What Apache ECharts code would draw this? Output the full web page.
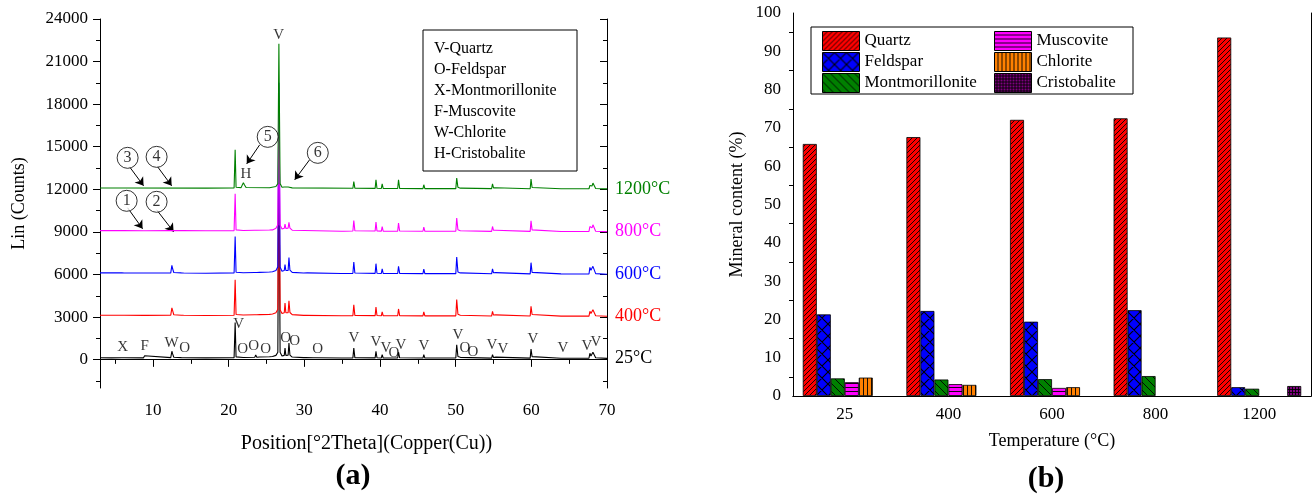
<!DOCTYPE html>
<html><head><meta charset="utf-8">
<script src="https://cdn.jsdelivr.net/npm/echarts@6/dist/echarts.min.js"></script>
<style>html,body{margin:0;padding:0;background:#fff}#c{width:1313px;height:500px}</style>
</head><body><div id="c"></div>
<script>
const FONT = "'Liberation Serif','Times New Roman',serif";

// ---------- Panel (a): XRD patterns ----------
const xrdNames = ['25°C', '400°C', '600°C', '800°C', '1200°C'];
const xrdColors = ['#000000', '#ff0000', '#0000ff', '#ff00ff', '#008000'];
const xrd25 = [[3,130],[4.5,125],[5.9,130],[6.05,175],[6.2,135],[8.75,125],[8.9,270],[9.05,130],[12.35,140],[12.5,590],[12.6,400],[12.75,170],[13.75,140],[13.9,250],[14.05,135],[17,120],[20.72,140],[20.86,2620],[20.98,190],[21.2,150],[21.92,150],[22.05,260],[22.18,150],[23.45,170],[23.58,320],[23.72,170],[24.1,180],[24.23,270],[24.36,180],[25.4,200],[25.6,320],[25.8,220],[26.25,300],[26.5,520],[26.64,15500],[26.8,520],[27.05,260],[27.35,300],[27.45,820],[27.56,300],[27.86,310],[27.97,1170],[28.1,320],[28.4,180],[29.9,140],[30.05,190],[30.2,140],[31.2,130],[31.35,200],[31.5,130],[34.9,110],[35.05,170],[35.2,110],[36.42,120],[36.54,820],[36.68,140],[39.36,120],[39.47,590],[39.6,130],[40.18,115],[40.29,350],[40.42,115],[41.7,115],[41.82,180],[41.94,115],[42.34,115],[42.45,520],[42.6,130],[45.68,110],[45.79,350],[45.93,110],[50.02,115],[50.14,1050],[50.3,220],[50.62,160],[50.8,110],[54.75,105],[54.87,350],[55.0,150],[55.3,175],[55.45,105],[59.85,105],[59.96,750],[60.1,210],[60.3,110],[63.92,100],[64.03,170],[64.15,100],[67.62,105],[67.74,450],[67.88,260],[68.02,300],[68.14,520],[68.22,420],[68.31,520],[68.5,130],[70,90]];
const xrd400 = [[3,3130],[5.9,3130],[6.05,3170],[6.2,3125],[8.75,3120],[8.9,3250],[9.05,3120],[12.35,3130],[12.5,3640],[12.6,3450],[12.75,3160],[13.75,3130],[13.9,3230],[14.05,3125],[17,3110],[20.72,3130],[20.86,5630],[20.98,3180],[21.2,3140],[21.92,3140],[22.05,3240],[22.18,3140],[23.45,3160],[23.58,3290],[23.72,3160],[24.1,3170],[24.23,3260],[24.36,3170],[25.4,3190],[25.6,3300],[25.8,3210],[26.25,3300],[26.5,3550],[26.64,17000],[26.8,3520],[27.05,3250],[27.35,3300],[27.45,3990],[27.56,3300],[27.86,3310],[27.97,4150],[28.1,3320],[28.4,3170],[29.9,3120],[30.05,3180],[30.2,3120],[34.9,3090],[35.05,3130],[35.2,3090],[36.42,3100],[36.54,3870],[36.68,3120],[39.36,3100],[39.47,3710],[39.6,3110],[40.18,3090],[40.29,3360],[40.42,3090],[42.34,3090],[42.45,3570],[42.6,3100],[45.68,3080],[45.79,3360],[45.93,3080],[50.02,3085],[50.14,4230],[50.3,3200],[50.62,3130],[50.8,3080],[54.75,3070],[54.87,3400],[55.0,3140],[55.3,3150],[55.45,3070],[59.85,3070],[59.96,3750],[60.1,3180],[60.3,3075],[63.92,3065],[64.03,3150],[64.15,3065],[67.62,3065],[67.74,3400],[67.88,3250],[68.02,3280],[68.14,3520],[68.22,3420],[68.31,3500],[68.5,3090],[70,3055]];
const xrd600 = [[3,6110],[5.9,6110],[6.05,6150],[6.2,6105],[8.75,6100],[8.9,6180],[9.05,6100],[12.35,6110],[12.5,6640],[12.6,6400],[12.75,6140],[13.75,6110],[13.9,6200],[14.05,6105],[17,6090],[20.72,6110],[20.86,8680],[20.98,6160],[21.2,6120],[21.92,6120],[22.05,6220],[22.18,6120],[23.45,6140],[23.58,6270],[23.72,6140],[24.1,6150],[24.23,6240],[24.36,6150],[25.4,6170],[25.6,6280],[25.8,6190],[26.25,6280],[26.5,6550],[26.64,19500],[26.8,6520],[27.05,6230],[27.35,6280],[27.45,6690],[27.56,6280],[27.86,6290],[27.97,7200],[28.1,6300],[28.4,6150],[29.9,6100],[30.05,6180],[30.4,6110],[34.9,6070],[35.05,6110],[35.2,6070],[36.42,6080],[36.54,6880],[36.68,6100],[39.36,6080],[39.47,6760],[39.6,6090],[40.18,6070],[40.29,6400],[40.42,6070],[41.7,6065],[41.82,6130],[41.94,6065],[42.34,6065],[42.45,6570],[42.6,6080],[45.68,6060],[45.79,6380],[45.93,6060],[50.02,6060],[50.14,7230],[50.3,6180],[50.62,6110],[50.8,6055],[54.75,6045],[54.87,6400],[55.0,6120],[55.3,6130],[55.45,6045],[59.85,6040],[59.96,6830],[60.1,6150],[60.3,6045],[63.92,6040],[64.03,6110],[64.15,6040],[67.62,6035],[67.74,6500],[67.88,6300],[68.02,6330],[68.14,6570],[68.22,6450],[68.31,6560],[68.5,6060],[70,6020]];
const xrd800 = [[3,9090],[5.75,9090],[5.9,9150],[6.05,9090],[8.75,9085],[8.9,9130],[9.05,9085],[12.35,9090],[12.5,9200],[12.65,9090],[13.6,9090],[13.75,9160],[13.9,9090],[17,9075],[20.72,9090],[20.86,11690],[20.98,9140],[21.2,9100],[21.92,9100],[22.05,9160],[22.18,9100],[23.45,9110],[23.58,9180],[23.72,9110],[25.4,9130],[25.6,9200],[25.8,9140],[26.25,9250],[26.5,9500],[26.64,18000],[26.8,9480],[27.05,9200],[27.35,9250],[27.45,9550],[27.56,9250],[27.86,9260],[27.97,9670],[28.1,9270],[28.4,9120],[34.9,9050],[35.05,9080],[35.2,9050],[36.42,9060],[36.54,9800],[36.68,9080],[39.36,9060],[39.47,9690],[39.6,9070],[40.18,9055],[40.29,9380],[40.42,9055],[42.34,9050],[42.45,9620],[42.6,9060],[45.68,9045],[45.79,9340],[45.93,9045],[50.02,9045],[50.14,9970],[50.3,9150],[50.62,9080],[50.8,9040],[54.75,9035],[54.87,9380],[55.0,9110],[55.3,9120],[55.45,9035],[59.85,9035],[59.96,9780],[60.1,9140],[60.3,9035],[63.92,9030],[64.03,9100],[64.15,9030],[67.62,9030],[67.74,9380],[67.88,9250],[68.02,9280],[68.14,9500],[68.22,9420],[68.31,9480],[68.5,9050],[70,9020]];
const xrd1200 = [[3,12090],[5.75,12090],[5.9,12130],[6.05,12090],[17,12080],[20.72,12090],[20.86,14780],[20.98,12140],[21.2,12110],[21.65,12120],[21.8,12300],[21.95,12460],[22.1,12300],[22.3,12130],[25.4,12110],[26.25,12200],[26.5,12400],[26.64,22250],[26.8,12400],[27.05,12150],[27.35,12160],[27.45,12260],[27.56,12160],[27.86,12160],[27.97,12220],[28.1,12150],[28.4,12100],[36.42,12070],[36.54,12550],[36.68,12080],[39.36,12065],[39.47,12670],[39.6,12070],[40.18,12060],[40.29,12390],[40.42,12060],[42.34,12055],[42.45,12670],[42.6,12065],[45.68,12050],[45.79,12320],[45.93,12050],[50.02,12050],[50.14,12790],[50.3,12140],[50.62,12080],[50.8,12045],[54.75,12045],[54.87,12390],[55.0,12100],[55.3,12110],[55.45,12045],[59.85,12040],[59.96,12720],[60.1,12130],[60.3,12040],[63.92,12040],[64.03,12090],[64.15,12040],[67.62,12040],[67.74,12270],[67.88,12200],[68.02,12230],[68.14,12440],[68.22,12360],[68.31,12420],[68.5,12060],[70,12030]];
const xrdData = [xrd25, xrd400, xrd600, xrd800, xrd1200];

const xMajorTicks = [10, 20, 30, 40, 50, 60, 70];
const xMinorTicks = [5, 15, 25, 35, 45, 55, 65];
const yMajorTicks = [0, 3000, 6000, 9000, 12000, 15000, 18000, 21000, 24000];
const yMinorTicks = [-1500, 1500, 4500, 7500, 10500, 13500, 16500, 19500, 22500];

// peak labels on 25°C curve [x, y, text]
const peakLabels = [[5.99,915,'X'],[8.9,985,'F'],[12.47,1196,'W'],[14.19,845,'O'],[21.33,2534,'V'],[21.86,774,'O'],[23.31,985,'O'],[24.9,774,'O'],[27.55,1548,'O'],[28.74,1337,'O'],[31.78,774,'O'],[36.54,1548,'V'],[39.45,1267,'V'],[40.77,845,'V'],[41.83,493,'O'],[42.75,1056,'V'],[45.8,936,'V'],[50.29,1760,'V'],[51.21,845,'O'],[52.27,563,'O'],[54.78,1056,'V'],[56.24,774,'V'],[60.2,1478,'V'],[64.17,845,'V'],[67.35,985,'V'],[68.54,1267,'V'],[26.6,22870,'V'],[22.29,13090,'H']];
// circled markers [x, y, text]
const circleMarks = [[6.52,11190,'1'],[10.48,11120,'2'],[6.65,14217,'3'],[10.48,14287,'4'],[25.16,15695,'5'],[31.78,14569,'6']];
// arrows [x1, y1, x2, y2]
const arrows = [[6.65,10698,8.63,9220],[10.48,10557,12.73,9009],[6.91,13583,8.76,12246],[10.62,13583,12.47,12246],[24.1,15132,22.39,13794],[30.69,14076,28.73,12668]];
const phaseKey = ['V-Quartz', 'O-Feldspar', 'X-Montmorillonite', 'F-Muscovite', 'W-Chlorite', 'H-Cristobalite'];

// ---------- Panel (b): mineral content ----------
const temps = ['25', '400', '600', '800', '1200'];
const minerals = ['Quartz', 'Feldspar', 'Montmorillonite', 'Muscovite', 'Chlorite', 'Cristobalite'];
const quartz = [65.8, 67.6, 72.1, 72.5, 93.6];
const feldspar = [21.3, 22.2, 19.4, 22.4, 2.3];
const montmorillonite = [4.6, 4.3, 4.4, 5.2, 1.9];
const muscovite = [3.6, 3.1, 2.1, null, null];
const chlorite = [4.8, 2.9, 2.3, null, null];
const cristobalite = [null, null, null, null, 2.6];
const mineralData = [quartz, feldspar, montmorillonite, muscovite, chlorite, cristobalite];

// ---------- hatch patterns ----------
function pattern(size, bg, draw, lw) {
  const c = document.createElement('canvas');
  c.width = size; c.height = size;
  const g = c.getContext('2d');
  g.fillStyle = bg; g.fillRect(0, 0, size, size);
  g.strokeStyle = '#000'; g.lineWidth = lw || 0.9;
  g.beginPath(); draw(g, size); g.stroke();
  return { image: c, repeat: 'repeat' };
}
const fwd = (g, s) => { g.moveTo(-1, s + 1); g.lineTo(s + 1, -1); g.moveTo(-1, 1); g.lineTo(1, -1); g.moveTo(s - 1, s + 1); g.lineTo(s + 1, s - 1); };
const back = (g, s) => { g.moveTo(-1, -1); g.lineTo(s + 1, s + 1); g.moveTo(-1, s - 1); g.lineTo(1, s + 1); g.moveTo(s - 1, -1); g.lineTo(s + 1, 1); };
const fills = [
  pattern(5, '#ff0000', fwd),
  pattern(12, '#0000ff', (g, s) => { fwd(g, s); back(g, s); }, 1.1),
  pattern(8, '#008000', back),
  pattern(4, '#ff00ff', (g, s) => { g.moveTo(0, 3.5); g.lineTo(s, 3.5); }),
  pattern(4, '#ff8000', (g, s) => { g.moveTo(3.5, 0); g.lineTo(3.5, s); }),
  pattern(3, '#800080', (g, s) => { g.moveTo(2.5, 0); g.lineTo(2.5, s); g.moveTo(0, 2.5); g.lineTo(s, 2.5); })
];

const axisLineBlack = { show: true, lineStyle: { color: '#000', width: 1 } };
const labelStyle = { color: '#000', fontFamily: FONT, fontSize: 17 };
const plain = v => String(v);

function xA(opts) {
  return Object.assign({ gridIndex: 0, type: 'value', min: 3, max: 70, splitLine: { show: false }, axisLine: axisLineBlack }, opts);
}
function yA(opts) {
  return Object.assign({ gridIndex: 0, type: 'value', min: -2000, max: 24000, splitLine: { show: false }, axisLine: axisLineBlack }, opts);
}

const xAxes = [
  xA({ position: 'bottom', axisTick: { customValues: xMajorTicks, length: 7, lineStyle: { color: '#000' } },
       axisLabel: Object.assign({ customValues: xMajorTicks, margin: 14, formatter: plain }, labelStyle),
       name: 'Position[°2Theta](Copper(Cu))', nameLocation: 'middle', nameGap: 46, nameMoveOverlap: false,
       nameTextStyle: { color: '#000', fontFamily: FONT, fontSize: 20, padding: [0, 0, 0, 26] } }),
  xA({ position: 'bottom', axisLine: { show: false }, axisTick: { customValues: xMinorTicks, length: 4, lineStyle: { color: '#000' } }, axisLabel: { show: false } }),
  xA({ position: 'top', axisTick: { inside: true, customValues: xMajorTicks, length: 7, lineStyle: { color: '#000' } }, axisLabel: { show: false } }),
  xA({ position: 'top', axisLine: { show: false }, axisTick: { inside: true, customValues: xMinorTicks, length: 4, lineStyle: { color: '#000' } }, axisLabel: { show: false } }),
  { gridIndex: 1, type: 'category', data: temps, position: 'bottom', axisLine: axisLineBlack, axisTick: { show: false },
    axisLabel: Object.assign({ margin: 10 }, labelStyle),
    name: 'Temperature (°C)', nameLocation: 'middle', nameGap: 36,
    nameTextStyle: { color: '#000', fontFamily: FONT, fontSize: 18 } },
  { gridIndex: 1, type: 'category', data: temps, position: 'top', axisLine: axisLineBlack, axisTick: { show: false }, axisLabel: { show: false } }
];
const yAxes = [
  yA({ position: 'left', axisTick: { customValues: yMajorTicks, length: 7, lineStyle: { color: '#000' } },
       axisLabel: Object.assign({ customValues: yMajorTicks, margin: 12, formatter: plain }, labelStyle),
       name: 'Lin (Counts)', nameLocation: 'middle', nameGap: 72, nameMoveOverlap: false,
       nameTextStyle: { color: '#000', fontFamily: FONT, fontSize: 18 } }),
  yA({ position: 'left', axisLine: { show: false }, axisTick: { customValues: yMinorTicks, length: 4, lineStyle: { color: '#000' } }, axisLabel: { show: false } }),
  yA({ position: 'right', axisTick: { inside: true, customValues: yMajorTicks, length: 7, lineStyle: { color: '#000' } }, axisLabel: { show: false } }),
  yA({ position: 'right', axisLine: { show: false }, axisTick: { inside: true, customValues: yMinorTicks, length: 4, lineStyle: { color: '#000' } }, axisLabel: { show: false } }),
  { gridIndex: 1, type: 'value', min: 0, max: 100, interval: 10, position: 'left', splitLine: { show: false }, axisLine: axisLineBlack,
    axisTick: { length: 7, lineStyle: { color: '#000' } }, minorTick: { show: true, splitNumber: 2, length: 4, lineStyle: { color: '#000' } },
    axisLabel: Object.assign({ margin: 12, formatter: plain }, labelStyle),
    name: 'Mineral content (%)', nameLocation: 'middle', nameGap: 47, nameMoveOverlap: false,
    nameTextStyle: { color: '#000', fontFamily: FONT, fontSize: 18 } },
  { gridIndex: 1, type: 'value', min: 0, max: 100, interval: 10, position: 'right', splitLine: { show: false }, axisLine: axisLineBlack,
    axisTick: { inside: true, length: 7, lineStyle: { color: '#000' } }, axisLabel: { show: false } }
];

const series = [];
xrdData.forEach((d, i) => {
  series.push({
    type: 'line', name: xrdNames[i], xAxisIndex: 0, yAxisIndex: 0, data: d, showSymbol: false, symbol: 'none',
    lineStyle: { color: xrdColors[i], width: 1.1 }, itemStyle: { color: xrdColors[i] },
    endLabel: { show: true, formatter: xrdNames[i], color: xrdColors[i], fontFamily: FONT, fontSize: 18, distance: 8 },
    z: 2 + i
  });
});
series.push({
  type: 'scatter', xAxisIndex: 0, yAxisIndex: 0, symbolSize: 1, itemStyle: { color: 'rgba(0,0,0,0)' },
  data: peakLabels.map(p => ({ value: [p[0], p[1]], name: p[2] })),
  label: { show: true, position: 'inside', formatter: p => p.name, color: '#000', fontFamily: FONT, fontSize: 15 }, z: 10
});
series.push({
  type: 'scatter', xAxisIndex: 0, yAxisIndex: 0, symbol: 'circle', symbolSize: 21,
  itemStyle: { color: '#fff', borderColor: '#000', borderWidth: 1 },
  data: circleMarks.map(p => ({ value: [p[0], p[1]], name: p[2] })),
  label: { show: true, position: 'inside', formatter: p => p.name, color: '#000', fontFamily: FONT, fontSize: 16 },
  markLine: {
    silent: true, symbol: ['none', 'arrow'], symbolSize: 8, label: { show: false },
    lineStyle: { color: '#000', width: 1, type: 'solid' },
    data: arrows.map(a => [{ coord: [a[0], a[1]] }, { coord: [a[2], a[3]] }])
  }, z: 11
});
mineralData.forEach((d, i) => {
  series.push({
    type: 'bar', name: minerals[i], xAxisIndex: 4, yAxisIndex: 4, data: d, barWidth: 14, barGap: '0%',
    itemStyle: { color: fills[i], borderColor: '#000', borderWidth: 0.8 }
  });
});

const legendCommon = {
  orient: 'vertical', itemWidth: 37, itemHeight: 19, itemGap: 1, icon: 'rect',
  textStyle: { color: '#000', fontFamily: FONT, fontSize: 17 },
  itemStyle: { borderColor: '#000', borderWidth: 1 }, selectedMode: false, padding: 0
};

const option = {
  animation: false,
  backgroundColor: '#fff',
  grid: [
    { left: 100, top: 19, width: 507, height: 369 },
    { left: 793, top: 13, width: 518, height: 383 }
  ],
  xAxis: xAxes,
  yAxis: yAxes,
  legend: [
    Object.assign({ left: 822, top: 31, data: minerals.slice(0, 3) }, legendCommon),
    Object.assign({ left: 994, top: 31, data: minerals.slice(3) }, legendCommon)
  ],
  graphic: [
    { type: 'rect', shape: { x: 423, y: 30, width: 154, height: 141 }, style: { fill: '#fff', stroke: '#000', lineWidth: 1 }, z: 5 },
    ...phaseKey.map((t, i) => ({ type: 'text', x: 434, y: 49 + i * 21, style: { text: t, fill: '#000', font: '16px ' + FONT, textVerticalAlign: 'middle' }, z: 6 })),
    { type: 'rect', shape: { x: 811, y: 27, width: 322, height: 67 }, style: { fill: 'none', stroke: '#000', lineWidth: 1 }, z: 5 },
    { type: 'text', x: 353, y: 476, style: { text: '(a)', fill: '#000', font: 'bold 30px ' + FONT, textAlign: 'center', textVerticalAlign: 'middle' } },
    { type: 'text', x: 1046, y: 479, style: { text: '(b)', fill: '#000', font: 'bold 30px ' + FONT, textAlign: 'center', textVerticalAlign: 'middle' } }
  ],
  series: series
};
const chart = echarts.init(document.getElementById('c'), null, { renderer: 'canvas' });
chart.setOption(option);
</script></body></html>
